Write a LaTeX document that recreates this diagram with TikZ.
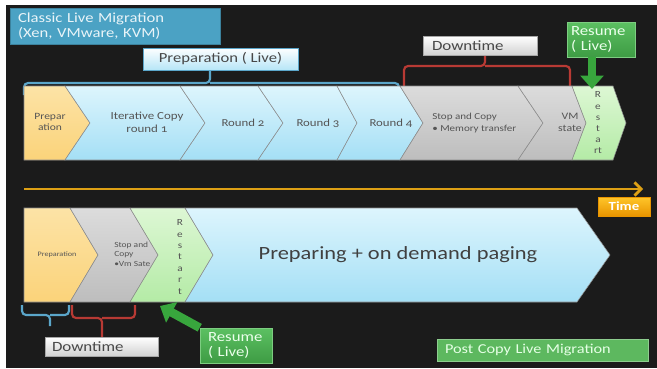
\documentclass[tikz,border=0pt]{standalone}
\usepackage{fontspec}
\setmainfont{Carlito}[Numbers=OldStyle, FakeStretch=1.2]
\usetikzlibrary{arrows.meta}

\definecolor{bgDark}{HTML}{1B1B1B}
\definecolor{chevText}{HTML}{555555}
\definecolor{prepTop}{HTML}{FCE3A6}
\definecolor{prepBot}{HTML}{FBD37A}
\definecolor{blueTop}{HTML}{DDF5FD}
\definecolor{blueBot}{HTML}{A4DFF5}
\definecolor{grayTop}{HTML}{DCDCDC}
\definecolor{grayBot}{HTML}{BDBDBD}
\definecolor{greenTop}{HTML}{DDF7D4}
\definecolor{greenBot}{HTML}{B4EBA6}
\definecolor{steel}{HTML}{4BA2C4}
\definecolor{braceBlue}{HTML}{5BA6CA}
\definecolor{braceRed}{HTML}{B83A34}
\definecolor{resGreenTop}{HTML}{5CC062}
\definecolor{resGreenBot}{HTML}{3E9C44}
\definecolor{postGreen}{HTML}{5DB85F}
\definecolor{timeTop}{HTML}{FFC62A}
\definecolor{timeBot}{HTML}{E89400}
\definecolor{timeLine}{HTML}{DDA015}

\tikzset{
  chev/.style={draw=black!45, line width=0.4pt},
  prepchev/.style={chev, top color=prepTop, bottom color=prepBot},
  copychev/.style={chev, top color=blueTop, bottom color=blueBot},
  stopchev/.style={chev, top color=grayTop, bottom color=grayBot},
  restartchev/.style={chev, top color=greenTop, bottom color=greenBot},
  chevtext/.style={text=chevText, align=center, inner sep=0pt},
  labelbox/.style={inner ysep=0pt, align=left},
  classicbox/.style={labelbox, fill=steel, draw=steel!80!black, line width=0.4pt,
    text=white!88!steel, font=\fontsize{10.4}{11}\selectfont},
  livebox/.style={labelbox, align=center, top color=white!95!blueTop, bottom color=blueBot!80!white,
    draw=braceBlue, line width=0.6pt, text=black!72, font=\fontsize{10.4}{10.4}\selectfont},
  downbox/.style={labelbox, top color=white, bottom color=black!18, draw=black!35,
    line width=0.4pt, text=black!72, font=\fontsize{10.6}{10.6}\selectfont},
  resumebox/.style={labelbox, top color=resGreenTop, bottom color=resGreenBot,
    draw=resGreenTop!80!white, line width=0.4pt, text=white!92!green,
    font=\fontsize{10.5}{11.5}\selectfont},
  timebox/.style={labelbox, align=center, top color=timeTop, bottom color=timeBot,
    draw=timeBot, line width=0.4pt, text=white, font=\bfseries\fontsize{9.3}{9.3}\selectfont},
  postbox/.style={labelbox, fill=postGreen, draw=postGreen!70!white, line width=0.6pt,
    text=white!90!green, font=\fontsize{10.2}{10.2}\selectfont},
  bluebrace/.style={draw=braceBlue, line width=1.6pt, rounded corners=3pt},
  redbrace/.style={draw=braceRed, line width=1.6pt, rounded corners=3pt},
  greenarrow/.style={draw=resGreenBot!90!green, line width=6.5pt,
    -{Triangle[length=10pt,width=17pt]}},
  timearrow/.style={draw=timeLine, line width=1.6pt,
    -{Straight Barb[length=5pt,width=10pt,line width=2pt]}},
}

\begin{document}
\begin{tikzpicture}[x=0.75pt,y=-0.75pt]
  % page and slide background
  \useasboundingbox (0,0) rectangle (657,368);
  \fill[white] (0,0) rectangle (657,368);
  \fill[bgDark] (6,5) rectangle (657,368);

  % ---------- braces above the first row (the chevrons sit on their ends) ----------
  \coordinate (liveTip) at (210,70);
  \draw[bluebrace] (24,95) |- (210,83) -- (liveTip);
  \draw[bluebrace] (399,95) |- (210,83);
  \coordinate (downTip) at (485,55);
  \draw[redbrace] (404,95) |- (485,66) -- (downTip);
  \draw[redbrace] (570,95) |- (485,66);

  % ---------- classic live migration: chevron row ----------
  \path[prepchev]    (24,86) -- (65,86) -- (90,123) -- (65,160) -- (24,160) -- cycle;
  \path[copychev]    (65,86) -- (180,86) -- (205,123) -- (180,160) -- (65,160) -- (90,123) -- cycle;
  \path[copychev]    (180,86) -- (258,86) -- (283,123) -- (258,160) -- (180,160) -- (205,123) -- cycle;
  \path[copychev]    (258,86) -- (337,86) -- (357,123) -- (337,160) -- (258,160) -- (283,123) -- cycle;
  \path[copychev]    (337,86) -- (400,86) -- (423,123) -- (400,160) -- (337,160) -- (357,123) -- cycle;
  \path[stopchev]    (400,86) -- (518,86) -- (543,123) -- (518,160) -- (400,160) -- (423,123) -- cycle;
  \path[stopchev]    (518,86) -- (572,86) -- (586,123) -- (572,160) -- (518,160) -- (543,123) -- cycle;
  \path[restartchev] (572,86) -- (613,86) -- (626,123) -- (613,160) -- (572,160) -- (586,123) -- cycle;

  \node[chevtext, font=\fontsize{7.2}{8.5}\selectfont] (tprep) at (50,122) {Prepar\\ation};
  \node[chevtext, font=\fontsize{8.1}{10}\selectfont] (titer) at (147,122) {Iterative Copy\\round 1};
  \node[chevtext, font=\fontsize{8}{10}\selectfont] (tr2) at (243,123) {Round 2};
  \node[chevtext, font=\fontsize{8}{10}\selectfont] (tr3) at (318,123) {Round 3};
  \node[chevtext, font=\fontsize{8}{10}\selectfont] (tr4) at (391,123) {Round 4};
  \node[chevtext, align=left, anchor=west, font=\fontsize{6.9}{9.3}\selectfont] (tstop) at (432,123)
    {Stop and Copy\\\textbullet\ Memory transfer};
  \node[chevtext, font=\fontsize{7.4}{8.5}\selectfont] (tvm) at (570,122.5) {VM\\state};
  \node[chevtext, font=\fontsize{7}{8.4}\selectfont] (trestart) at (598,123) {R\\e\\s\\t\\a\\rt};

  % ---------- time axis ----------
  \coordinate (tstart) at (24,189);
  \coordinate (tend) at (643,189);
  \draw[timearrow] (tstart) -- (tend);
  \node[timebox, minimum width=39pt, minimum height=14.25pt] (time) at (624,206.5) {Time};

  % ---------- post copy live migration: chevron row ----------
  \path[prepchev]    (24,208) -- (70,208) -- (98,255) -- (70,302) -- (24,302) -- cycle;
  \path[stopchev]    (70,208) -- (130,208) -- (158,255) -- (130,302) -- (70,302) -- (98,255) -- cycle;
  \path[restartchev] (130,208) -- (185,208) -- (213,255) -- (185,302) -- (130,302) -- (158,255) -- cycle;
  \path[copychev]    (185,208) -- (577,208) -- (610,255) -- (577,302) -- (185,302) -- (213,255) -- cycle;

  \node[chevtext, font=\fontsize{5.1}{5.5}\selectfont] (bprep) at (57,255) {Preparation};
  \node[chevtext, align=left, anchor=west, font=\fontsize{5.9}{7}\selectfont] (bstop) at (114,254)
    {Stop and\\Copy\\\textbullet Vm Sate};
  \node[chevtext, font=\fontsize{7}{8.6}\selectfont] (brestart) at (180,257) {R\\e\\s\\t\\a\\r\\t};
  \node[chevtext, font=\fontsize{14}{16}\selectfont, text=black!75] (bpage) at (398,255)
    {Preparing + on demand paging};

  % ---------- braces under the second row ----------
  \coordinate (bdownTip) at (50,326);
  \draw[bluebrace] (22,305) |- (50,315) -- (bdownTip);
  \draw[bluebrace] (69,305) |- (50,315);
  \coordinate (rdownTip) at (102,337);
  \draw[redbrace] (72,305) |- (102,318) -- (rdownTip);
  \draw[redbrace] (135,305) |- (102,318);

  % ---------- labels ----------
  \node[classicbox, minimum width=157.5pt, minimum height=27pt, text width=145.5pt, inner xsep=6pt]
    (classic) at (115,26) {Classic Live Migration\\(Xen, VMware, KVM)};
  \node[livebox, minimum width=116.25pt, minimum height=16.5pt] (live) at (220.5,59) {Preparation ( Live)};
  \node[downbox, minimum width=85.5pt, minimum height=14.25pt, text width=72pt, inner xsep=6.75pt]
    (down1) at (480,45.5) {Downtime};
  \node[resumebox, minimum width=51pt, minimum height=26.25pt, text width=45pt, inner xsep=3pt]
    (resume1) at (601,39.5) {Resume\\( Live)};
  \node[downbox, minimum width=84.75pt, minimum height=14.25pt, text width=74.25pt, inner xsep=5.25pt]
    (down2) at (101.5,346.5) {Downtime};
  \node[resumebox, minimum width=54pt, minimum height=26.25pt, text width=42pt, inner xsep=6pt]
    (resume2) at (236,345.5) {Resume\\( Live)};
  \node[postbox, minimum width=158.25pt, minimum height=16.5pt, text width=146.25pt, inner xsep=6pt]
    (post) at (542.5,350) {Post Copy Live Migration};

  % ---------- resume arrows ----------
  \coordinate (resumeTop) at (592,57);
  \coordinate (resumeTopTip) at (592,89);
  \draw[greenarrow] (resumeTop) -- (resumeTopTip);
  \coordinate (resumeBotTip) at (160,306);
  \draw[greenarrow] (resume2.north west) -- (resumeBotTip);
\end{tikzpicture}
\end{document}
